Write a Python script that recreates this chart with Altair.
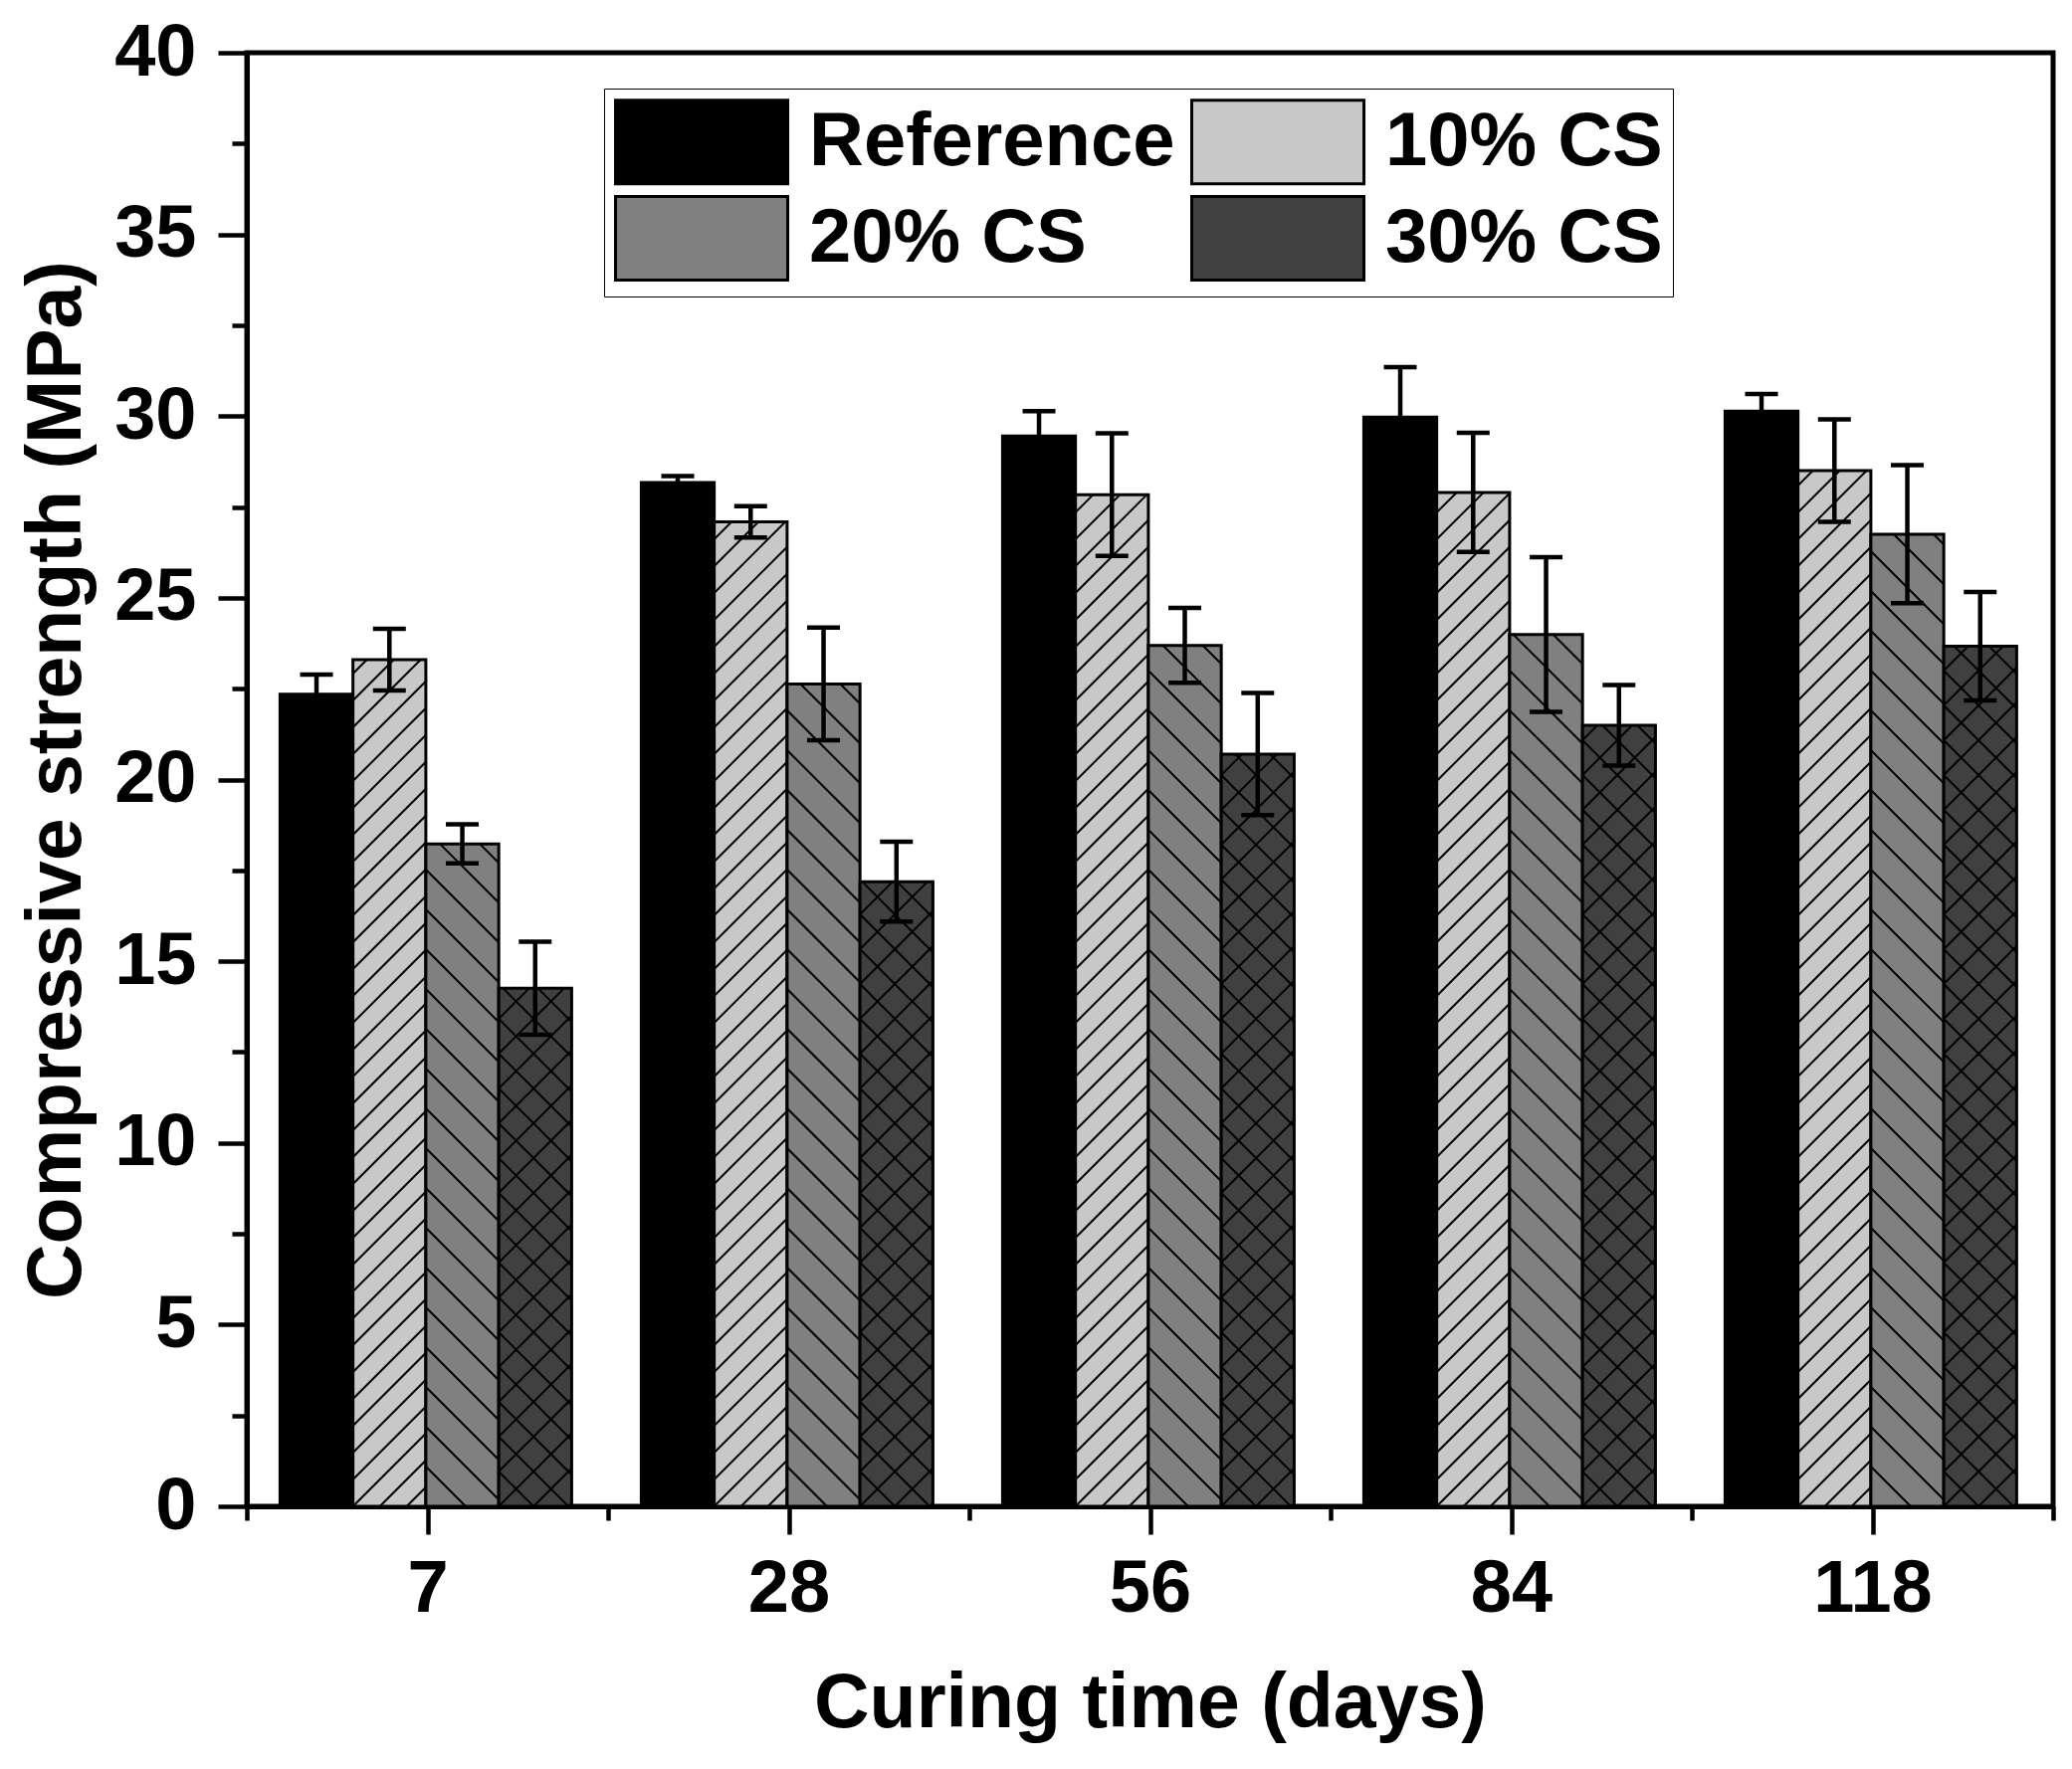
import math
import altair as alt
import pandas as pd

# ---------------- data ----------------
DAYS = ["7", "28", "56", "84", "118"]
SERIES = ["Reference", "10% CS", "20% CS", "30% CS"]
REF = [22.35, 28.17, 29.45, 29.97, 30.14]
CS10 = [23.30, 27.09, 27.84, 27.90, 28.50]
CS20 = [18.23, 22.63, 23.69, 23.99, 26.75]
CS30 = [14.26, 17.19, 20.70, 21.49, 23.67]
ERR_REF = [0.54, 0.18, 0.69, 1.38, 0.47]
ERR_10 = [0.85, 0.43, 1.69, 1.64, 1.41]
ERR_20 = [0.54, 1.55, 1.03, 2.13, 1.90]
ERR_30 = [1.28, 1.10, 1.68, 1.11, 1.49]
Y_TICKS = [0, 2.5, 5, 7.5, 10, 12.5, 15, 17.5, 20, 22.5, 25, 27.5, 30,
           32.5, 35, 37.5, 40]
X_TICKS = [0, 0.5, 1, 1.5, 2, 2.5, 3, 3.5, 4, 4.5, 5]

# ---------------- styling / layout ----------------
COLORS = ["#000000", "#c8c8c8", "#808080", "#404040"]
HATCH = {"Reference": [], "10% CS": [("/", 27)], "20% CS": [("\\", 40)],
         "30% CS": [("/", 35), ("\\", 35)]}
W, H = 1815, 1461
X_MAX, Y_MAX = 5, 40
PX_X, PX_Y = W / X_MAX, H / Y_MAX
GROUP_START, BAR_W = 0.092, 0.2018
FONT = "Liberation Sans"

values = [REF, CS10, CS20, CS30]
errors = [ERR_REF, ERR_10, ERR_20, ERR_30]
rows = []
for g, day in enumerate(DAYS):
    for s, name in enumerate(SERIES):
        left = g + GROUP_START + s * BAR_W
        v, e = values[s][g], errors[s][g]
        rows.append({"day": day, "series": name, "order": s,
                     "left": left, "right": left + BAR_W,
                     "center": left + BAR_W / 2, "value": v,
                     "lo": v - e, "hi": v + e})
df = pd.DataFrame(rows)


def hatch_segments(r):
    segs = []
    wp = (r["right"] - r["left"]) * PX_X
    hp = r["value"] * PX_Y
    for direction, d in HATCH[r["series"]]:
        if direction == "/":
            for k in range(math.ceil(-wp / d), math.floor(hp / d) + 1):
                c = k * d
                u1, u2 = max(0, -c), min(wp, hp - c)
                if u2 - u1 > 0.5:
                    segs.append((u1, u1 + c, u2, u2 + c))
        else:
            for k in range(0, math.floor((hp + wp) / d) + 1):
                c = k * d
                u1, u2 = max(0, c - hp), min(wp, c)
                if u2 - u1 > 0.5:
                    segs.append((u1, c - u1, u2, c - u2))
    return [{"x": r["left"] + a / PX_X, "y": b / PX_Y,
             "x2": r["left"] + c2 / PX_X, "y2": d2 / PX_Y}
            for a, b, c2, d2 in segs]


hrows = []
for _, r in df.iterrows():
    hrows.extend(hatch_segments(r))
hdf = pd.DataFrame(hrows)

xscale = alt.Scale(domain=[0, X_MAX], nice=False, zero=False)
yscale = alt.Scale(domain=[0, Y_MAX], nice=False)

day_js = "[" + ",".join("'%s'" % d for d in DAYS) + "]"
xaxis = alt.Axis(
    title="Curing time (days)", values=X_TICKS,
    labelExpr="datum.value % 1 === 0.5 ? " + day_js + "[floor(datum.value)] : ''",
    tickSize=28,
    tickDash={"condition": {"test": "datum.value % 1 === 0", "value": [14, 300]},
              "value": [100, 0]},
    labelPadding=19, titlePadding=40, labelOverlap=False, labelFlush=False,
)
yaxis = alt.Axis(
    title="Compressive strength (MPa)", values=Y_TICKS,
    labelExpr="datum.value % 5 === 0 ? datum.label : ''",
    tickSize=29,
    tickDash={"condition": {"test": "datum.value % 5 !== 0", "value": [15, 300]},
              "value": [100, 0]},
    labelPadding=22, titlePadding=18, labelOverlap=False, labelFlush=False,
)

legend = alt.Legend(
    title=None, orient="none", legendX=359, legendY=36, columns=2,
    direction="horizontal",
    symbolType="M-1,-1H3.12V1H-1Z", symbolSize=7056,
    symbolStrokeColor="black", symbolStrokeWidth=3, symbolOpacity=1,
    labelFont=FONT, labelFontSize=76, labelFontWeight="bold",
    labelColor="black", labelOffset=109, labelLimit=0,
    columnPadding=10, rowPadding=0, padding=10, strokeColor="black",
)

bars = alt.Chart(df).mark_bar(stroke="black", strokeWidth=3, opacity=1).encode(
    x=alt.X("left:Q", scale=xscale, axis=xaxis),
    x2="right:Q",
    y=alt.Y("value:Q", scale=yscale, axis=yaxis, stack=False),
    y2=alt.datum(0),
    fill=alt.Fill("series:N", scale=alt.Scale(domain=SERIES, range=COLORS),
                  legend=legend, sort=SERIES),
)

hatches = alt.Chart(hdf).mark_rule(color="black", strokeWidth=2).encode(
    x=alt.X("x:Q", scale=xscale, axis=xaxis),
    x2="x2:Q",
    y=alt.Y("y:Q", scale=yscale, axis=yaxis),
    y2="y2:Q",
)

stems = alt.Chart(df).mark_rule(color="black", strokeWidth=4.5).encode(
    x=alt.X("center:Q", scale=xscale, axis=xaxis),
    y=alt.Y("lo:Q", scale=yscale, axis=yaxis),
    y2="hi:Q",
)

caps = alt.Chart(df).transform_fold(["lo", "hi"], as_=["end", "cap"]).mark_tick(
    color="black", orient="horizontal", size=33, thickness=4.5, opacity=1
).encode(
    x=alt.X("center:Q", scale=xscale, axis=xaxis),
    y=alt.Y("cap:Q", scale=yscale, axis=yaxis),
)

chart = alt.layer(bars, hatches, stems, caps).properties(
    width=W, height=H,
    autosize=alt.AutoSizeParams(type="none"),
    padding={"left": 240, "top": 45, "right": 5, "bottom": 255},
    background="white",
).configure_axis(
    labelFont=FONT, labelFontSize=74, labelFontWeight="bold", labelColor="black",
    titleFont=FONT, titleFontSize=77, titleFontWeight="bold", titleColor="black",
    domainColor="black", domainWidth=5, tickColor="black", tickWidth=4.5,
    grid=False, zindex=1,
).configure_view(stroke="black", strokeWidth=5)

chart.save("out.html", embed_options={"renderer": "svg", "actions": False})
